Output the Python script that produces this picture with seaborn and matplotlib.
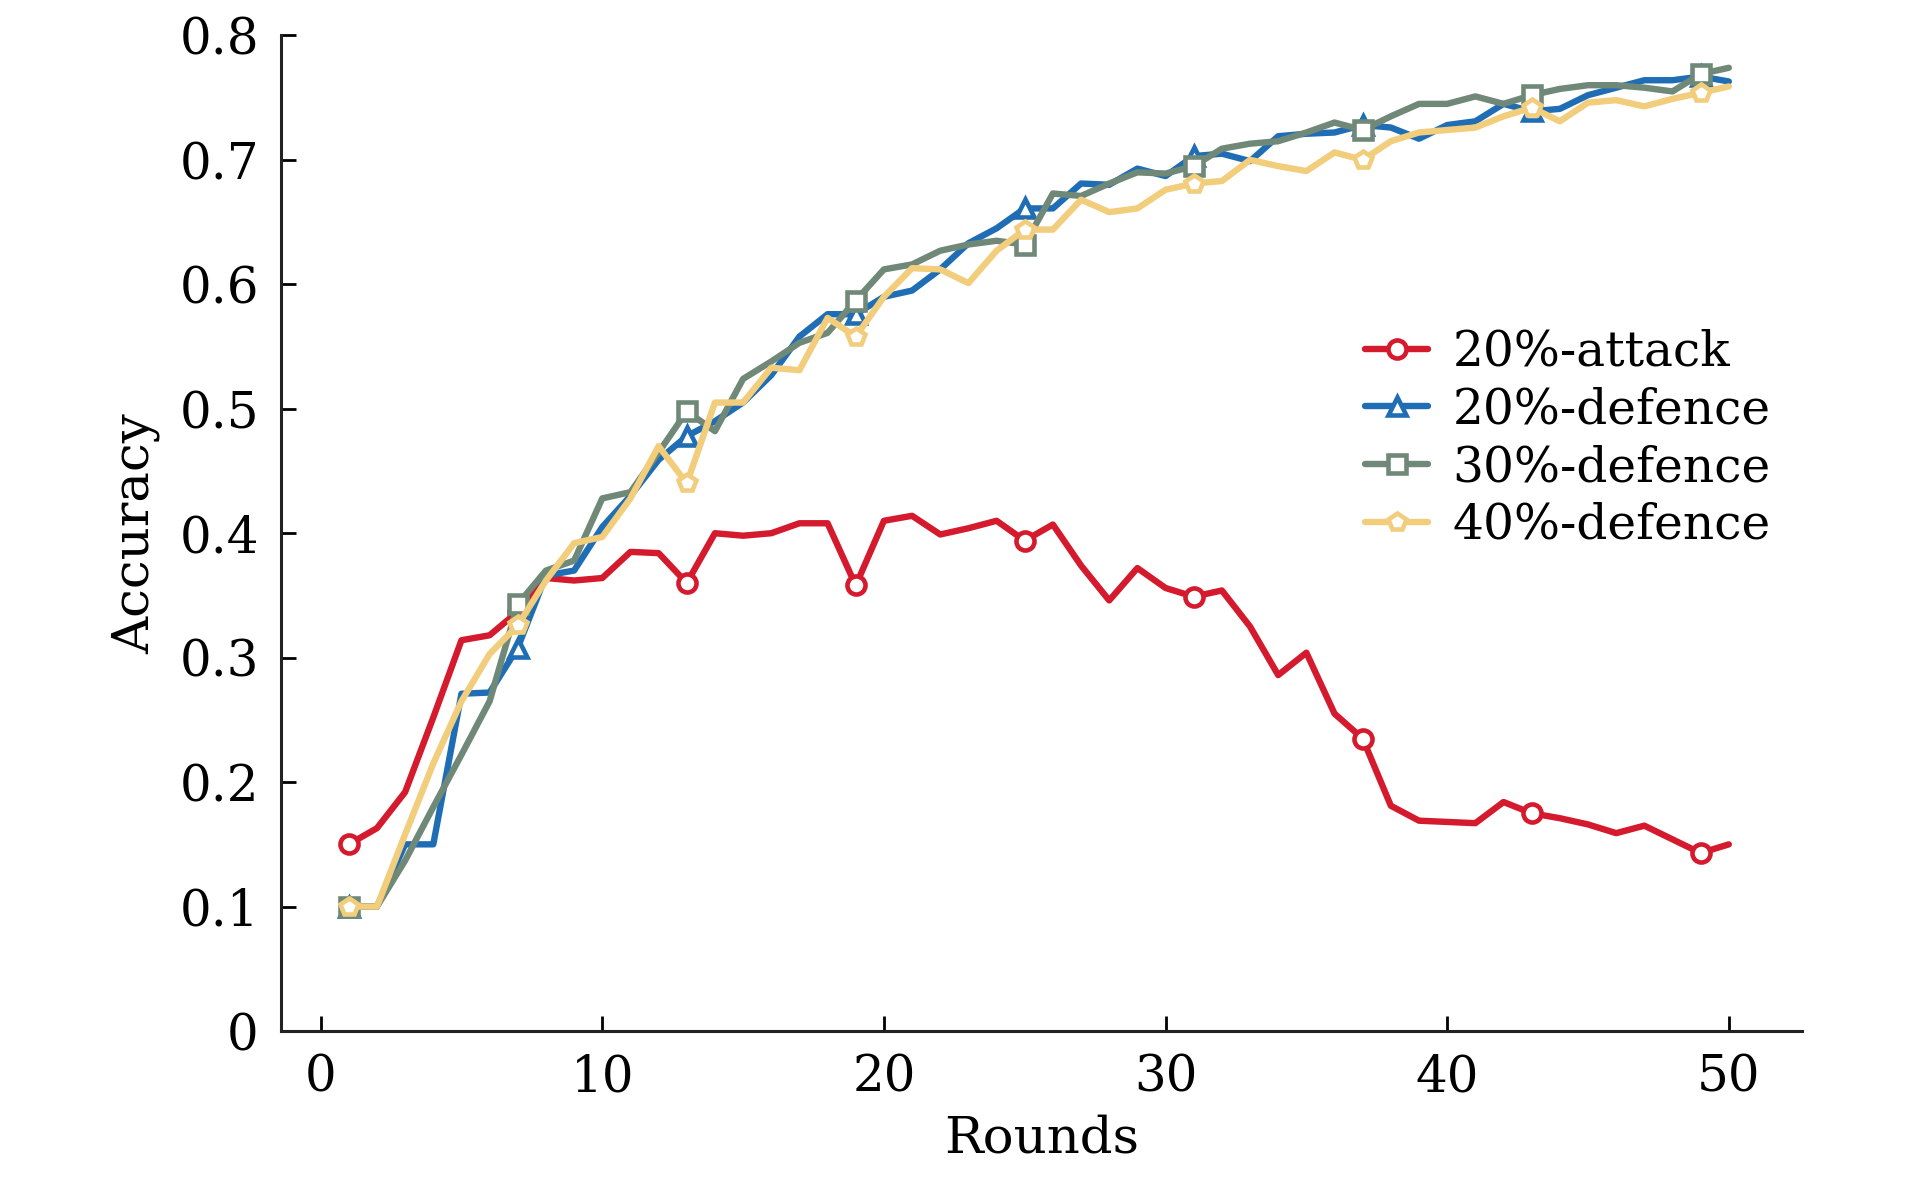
import numpy as np
import pandas as pd
import seaborn as sns
import matplotlib
matplotlib.use('Agg')
from matplotlib import pyplot as plt
from matplotlib.ticker import FixedLocator, FixedFormatter

rounds = list(range(1, 51))

attack_20 = [0.150, 0.163, 0.192, 0.252, 0.314, 0.318, 0.337, 0.364, 0.362, 0.364,
             0.385, 0.384, 0.360, 0.400, 0.398, 0.400, 0.408, 0.408, 0.358, 0.410,
             0.414, 0.399, 0.404, 0.410, 0.394, 0.407, 0.374, 0.346, 0.372, 0.356,
             0.349, 0.354, 0.325, 0.286, 0.304, 0.255, 0.235, 0.181, 0.169, 0.168,
             0.167, 0.184, 0.175, 0.171, 0.166, 0.159, 0.165, 0.154, 0.143, 0.150]

defence_20 = [0.100, 0.100, 0.150, 0.150, 0.271, 0.272, 0.308, 0.366, 0.370, 0.405,
              0.430, 0.459, 0.478, 0.490, 0.505, 0.527, 0.558, 0.576, 0.576, 0.590,
              0.595, 0.612, 0.633, 0.645, 0.661, 0.661, 0.681, 0.680, 0.693, 0.687,
              0.703, 0.705, 0.699, 0.719, 0.721, 0.722, 0.728, 0.726, 0.717, 0.728,
              0.731, 0.745, 0.739, 0.741, 0.752, 0.758, 0.764, 0.764, 0.767, 0.763]

defence_30 = [0.100, 0.100, 0.137, 0.180, 0.222, 0.265, 0.343, 0.370, 0.378, 0.428,
              0.433, 0.465, 0.498, 0.482, 0.524, 0.538, 0.553, 0.561, 0.587, 0.612,
              0.616, 0.627, 0.632, 0.635, 0.632, 0.673, 0.671, 0.681, 0.690, 0.689,
              0.695, 0.709, 0.713, 0.715, 0.722, 0.730, 0.724, 0.735, 0.745, 0.745,
              0.751, 0.745, 0.752, 0.757, 0.760, 0.760, 0.758, 0.755, 0.769, 0.774]

defence_40 = [0.100, 0.100, 0.158, 0.215, 0.265, 0.303, 0.326, 0.362, 0.392, 0.397,
              0.428, 0.470, 0.440, 0.505, 0.505, 0.533, 0.531, 0.573, 0.558, 0.590,
              0.613, 0.612, 0.601, 0.627, 0.644, 0.644, 0.668, 0.658, 0.661, 0.676,
              0.681, 0.683, 0.700, 0.695, 0.691, 0.706, 0.700, 0.715, 0.722, 0.724,
              0.726, 0.735, 0.742, 0.731, 0.746, 0.748, 0.743, 0.749, 0.754, 0.759]

labels = ['20%-attack', '20%-defence', '30%-defence', '40%-defence']
series = [attack_20, defence_20, defence_30, defence_40]
colors = ['#D41A2C', '#1F6DB4', '#6F8878', '#F1CD7C']
markers = ['o', '^', 's', 'p']

y_ticks = [0, 0.1, 0.2, 0.3, 0.4, 0.5, 0.6, 0.7, 0.8]
y_tick_labels = ['0', '0.1', '0.2', '0.3', '0.4', '0.5', '0.6', '0.7', '0.8']
x_ticks = [0, 10, 20, 30, 40, 50]

sns.set_theme(style='ticks')
plt.rcParams['font.family'] = ['DejaVu Serif']
plt.rcParams['text.color'] = 'black'
plt.rcParams['axes.labelcolor'] = 'black'

fig = plt.figure(figsize=(19.13, 11.81), dpi=100)
ax = fig.add_axes([0.147, 0.127, 0.795, 0.843])

for lab, vals, c, m in zip(labels, series, colors, markers):
    df = pd.DataFrame({'Rounds': rounds, 'Accuracy': vals})
    sns.lineplot(data=df, x='Rounds', y='Accuracy', ax=ax, color=c, label=lab,
                 marker=m, markersize=13, markeredgewidth=3.3,
                 markerfacecolor='white', markeredgecolor=c, markevery=6)

for line in ax.lines:
    line.set_linewidth(4.6)

ax.set_xlim(-1.4, 52.6)
ax.set_ylim(0, 0.8)
ax.xaxis.set_major_locator(FixedLocator(x_ticks))
ax.yaxis.set_major_locator(FixedLocator(y_ticks))
ax.yaxis.set_major_formatter(FixedFormatter(y_tick_labels))
ax.tick_params(direction='in', length=11, width=2, labelsize=36, colors='black', pad=16)
for s in ['top', 'right']:
    ax.spines[s].set_visible(False)
for s in ['left', 'bottom']:
    ax.spines[s].set_linewidth(2.2)
    ax.spines[s].set_color('#222222')

ax.set_xlabel('Rounds', fontsize=37, labelpad=8)
ax.set_ylabel('Accuracy', fontsize=37, labelpad=14)

leg = ax.legend(loc='upper left', bbox_to_anchor=(0.7, 0.725), frameon=False,
                fontsize=35, handlelength=1.3, handletextpad=0.5, labelspacing=0.22,
                borderaxespad=0)
for h in leg.get_lines():
    h.set_linewidth(4.6)

fig.savefig('out.png', dpi=100)
